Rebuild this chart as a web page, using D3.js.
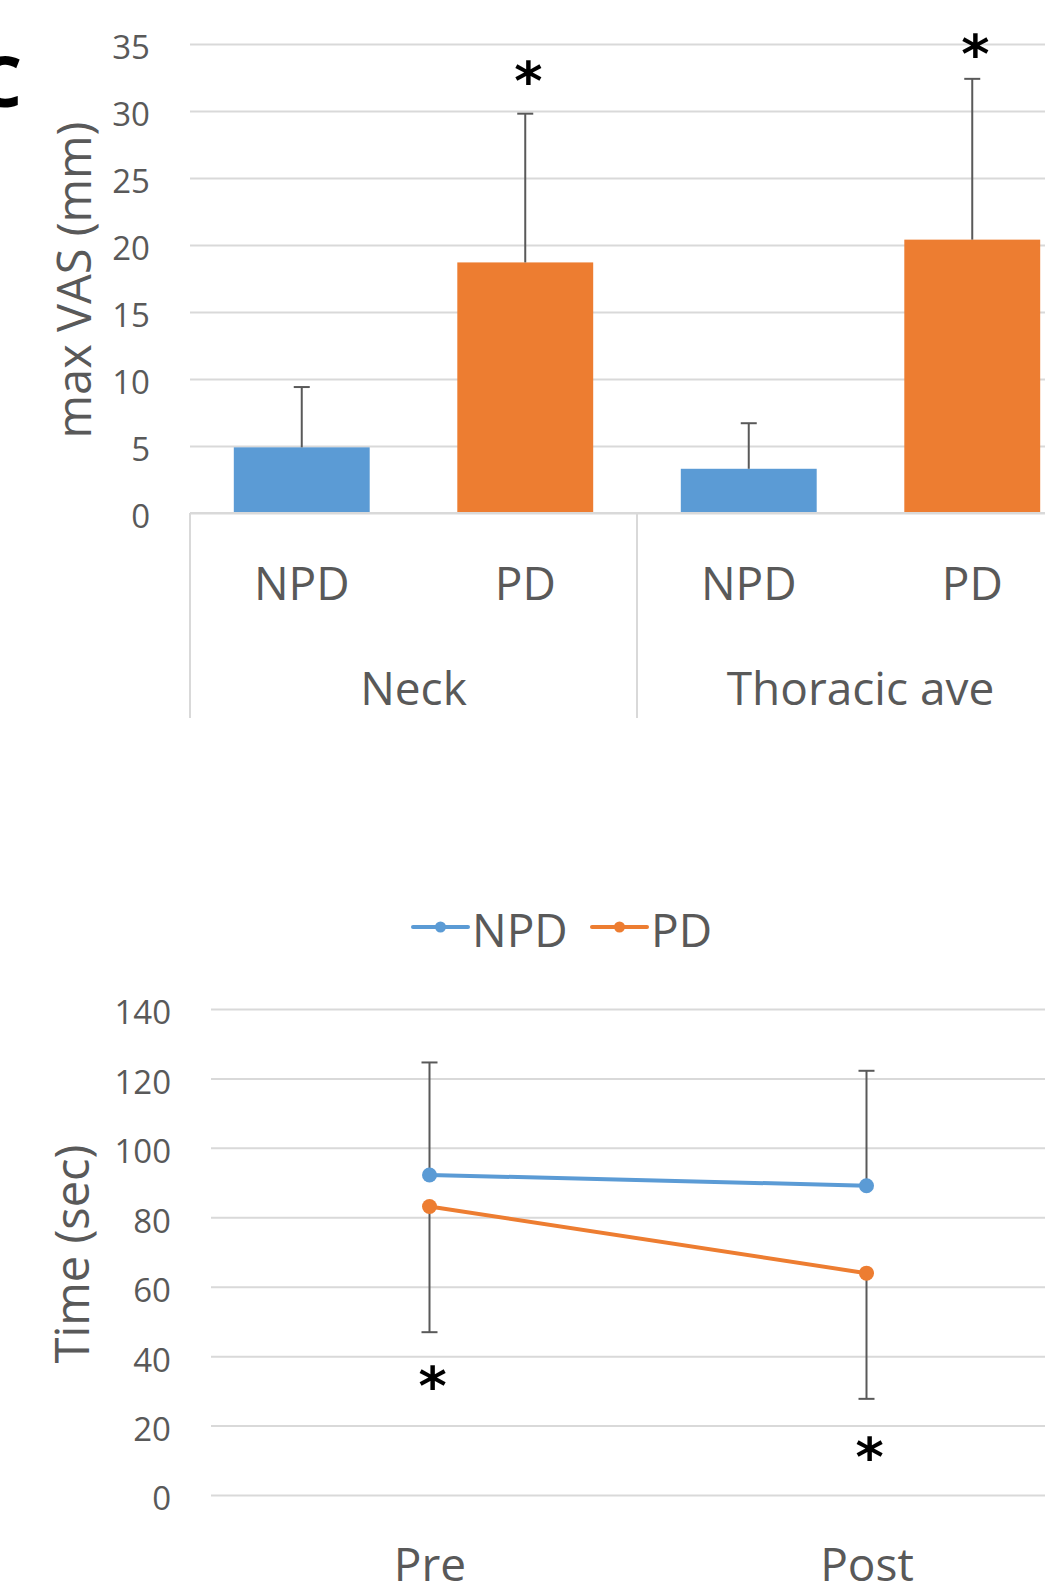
<!DOCTYPE html>
<html>
<head>
<meta charset="utf-8">
<script src="https://cdn.jsdelivr.net/npm/d3@7"></script>
<style>
  html, body { margin: 0; padding: 0; background: #ffffff; overflow: hidden; }
  svg { display: block; font-family: "Open Sans", "Noto Sans", sans-serif; }
</style>
</head>
<body>
<svg id="svg1"></svg>
<script>
// top panel: max VAS by region and group
const regions = ["Neck", "Thoracic ave"];
const groupNames = ["NPD", "PD"];
const vasMean = [4.9, 18.7, 3.3, 20.4];
const vasSD = [4.5, 11.1, 3.4, 12.0];
const vasStarY = [null, 32.8, null, 34.8];
const vasTicks = [0, 5, 10, 15, 20, 25, 30, 35];

// bottom panel: time pre / post
const phases = ["Pre", "Post"];
const npdTime = [92.2, 89.1];
const npdTimeSD = [32.4, 33.1];
const pdTime = [83.1, 63.9];
const pdTimeSD = [36.2, 36.2];
const timeStarY = [33.7, 13.0];
const timeTicks = [0, 20, 40, 60, 80, 100, 120, 140];

const width = 1045;
const height = 1581;
const gridColor = "#d9d9d9";
const textColor = "#595959";
const blue = "#5b9bd5";
const orange = "#ed7d31";

const svg = d3.select("#svg1")
              .attr("width", width)
              .attr("height", height);

// put a text's box centre on (cx, cy)
function centerText(sel, cx, cy) {
  const box = sel.node().getBBox();
  sel.attr("x", +sel.attr("x") + cx - (box.x + box.width / 2))
     .attr("y", +sel.attr("y") + cy - (box.y + box.height / 2));
}

// the asterisk glyph sits high in its em box, so nudge it down a bit
function drawStar(g, cx, cy) {
  const t = g.append("text")
             .attr("x", 0)
             .attr("y", 0)
             .style("font-family", "'DejaVu Sans', sans-serif")
             .style("font-weight", "bold")
             .style("font-size", "54px")
             .style("fill", "#000")
             .text("*");
  centerText(t, cx + 3, cy + 8);
}

/* ---------- top: bar chart ---------- */
const keys = [];
regions.forEach(r => groupNames.forEach(g => keys.push(r + "|" + g)));

const xBar = d3.scaleBand()
               .domain(keys)
               .range([190, 1084])
               .paddingInner(0.392)
               .paddingOuter(0.196);

const yVas = d3.scaleLinear()
               .domain([0, 35])
               .range([513, 44]);

const panelTop = svg.append("g");

const yAxisTop = panelTop.append("g")
                    .attr("transform", "translate(190,0)")
                    .call(d3.axisLeft(yVas)
                            .tickValues(vasTicks)
                            .tickSize(-(width - 190))
                            .tickPadding(40));
yAxisTop.select(".domain").remove();
yAxisTop.selectAll("line").attr("stroke", gridColor).attr("stroke-width", 2);
yAxisTop.selectAll("text")
        .attr("dy", "0.45em")
        .style("font-size", "33px")
        .style("font-family", "'Open Sans', sans-serif")
        .style("fill", textColor);

panelTop.append("g")
   .selectAll("rect")
   .data(keys)
   .enter()
   .append("rect")
   .attr("x", d => xBar(d))
   .attr("y", (d, i) => yVas(vasMean[i]))
   .attr("width", xBar.bandwidth())
   .attr("height", (d, i) => yVas(0) - yVas(vasMean[i]))
   .style("fill", d => d.endsWith("|PD") ? orange : blue);

// error bars, upward only
const errTop = panelTop.append("g")
                  .selectAll("g")
                  .data(keys)
                  .enter()
                  .append("g")
                  .attr("transform", d => "translate(" + (xBar(d) + xBar.bandwidth() / 2) + ",0)");
errTop.append("line")
      .attr("y1", (d, i) => yVas(vasMean[i]))
      .attr("y2", (d, i) => yVas(vasMean[i] + vasSD[i]))
      .attr("stroke", textColor)
      .attr("stroke-width", 2);
errTop.append("line")
      .attr("x1", -8)
      .attr("x2", 8)
      .attr("y1", (d, i) => yVas(vasMean[i] + vasSD[i]))
      .attr("y2", (d, i) => yVas(vasMean[i] + vasSD[i]))
      .attr("stroke", textColor)
      .attr("stroke-width", 2);

keys.forEach((k, i) => {
  if (vasStarY[i] !== null) drawStar(panelTop, xBar(k) + xBar.bandwidth() / 2, yVas(vasStarY[i]));
});

// category axis with two levels
panelTop.append("line")
   .attr("x1", 190).attr("x2", width)
   .attr("y1", yVas(0)).attr("y2", yVas(0))
   .attr("stroke", gridColor).attr("stroke-width", 2);

const step = xBar.step();
const groupEdges = d3.range(regions.length + 1).map(i => 190 + i * step * groupNames.length);
panelTop.selectAll(".divider")
   .data(groupEdges)
   .enter()
   .append("line")
   .attr("class", "divider")
   .attr("x1", d => d).attr("x2", d => d)
   .attr("y1", yVas(0)).attr("y2", 718)
   .attr("stroke", gridColor).attr("stroke-width", 2);

const xAxisTop = panelTop.append("g")
                    .attr("transform", "translate(0," + yVas(0) + ")")
                    .call(d3.axisBottom(xBar)
                            .tickSize(0)
                            .tickPadding(0)
                            .tickFormat(d => d.split("|")[1]));
xAxisTop.select(".domain").remove();
xAxisTop.selectAll("text")
        .attr("y", 87)
        .attr("dy", 0)
        .style("font-size", "46px")
        .style("font-family", "'Open Sans', sans-serif")
        .style("fill", textColor);

panelTop.selectAll(".region")
   .data(regions)
   .enter()
   .append("text")
   .attr("class", "region")
   .attr("x", (d, i) => (groupEdges[i] + groupEdges[i + 1]) / 2)
   .attr("y", 705)
   .attr("text-anchor", "middle")
   .style("font-size", "46px")
   .style("fill", textColor)
   .text(d => d);

panelTop.append("text")
   .attr("transform", "translate(91,280) rotate(-90)")
   .attr("text-anchor", "middle")
   .style("font-size", "47px")
   .style("fill", textColor)
   .text("max VAS (mm)");

// panel letter, mostly off the left edge
panelTop.append("text")
   .attr("x", 22)
   .attr("y", 107)
   .attr("text-anchor", "end")
   .style("font-size", "70px")
   .style("font-weight", "bold")
   .style("fill", "#000")
   .text("C");

/* ---------- bottom: line chart ---------- */
const xTime = d3.scalePoint()
                .domain(phases)
                .range([211, 1085])
                .padding(0.5);

const yTime = d3.scaleLinear()
                .domain([0, 140])
                .range([1495, 1009]);

const panelBottom = svg.append("g");

const yAxisBot = panelBottom.append("g")
                       .attr("transform", "translate(211,0)")
                       .call(d3.axisLeft(yTime)
                               .tickValues(timeTicks)
                               .tickSize(-(width - 211))
                               .tickPadding(40));
yAxisBot.select(".domain").remove();
yAxisBot.selectAll("line").attr("stroke", gridColor).attr("stroke-width", 2);
yAxisBot.selectAll("text")
        .attr("dy", "0.45em")
        .style("font-size", "33px")
        .style("font-family", "'Open Sans', sans-serif")
        .style("fill", textColor);

const series = [
  {name: "NPD", values: npdTime, sd: npdTimeSD, dir: 1, color: blue},
  {name: "PD", values: pdTime, sd: pdTimeSD, dir: -1, color: orange}
];

// error bars first so the markers sit on top
series.forEach(s => {
  const eb = panelBottom.append("g")
                   .selectAll("g")
                   .data(phases)
                   .enter()
                   .append("g")
                   .attr("transform", d => "translate(" + xTime(d) + ",0)");
  eb.append("line")
    .attr("y1", (d, i) => yTime(s.values[i]))
    .attr("y2", (d, i) => yTime(s.values[i] + s.dir * s.sd[i]))
    .attr("stroke", textColor)
    .attr("stroke-width", 2);
  eb.append("line")
    .attr("x1", -8).attr("x2", 8)
    .attr("y1", (d, i) => yTime(s.values[i] + s.dir * s.sd[i]))
    .attr("y2", (d, i) => yTime(s.values[i] + s.dir * s.sd[i]))
    .attr("stroke", textColor)
    .attr("stroke-width", 2);
});

const line = d3.line()
               .x(d => xTime(d.phase))
               .y(d => yTime(d.value));

series.forEach(s => {
  const pts = phases.map((p, i) => ({phase: p, value: s.values[i]}));
  panelBottom.append("path")
        .datum(pts)
        .attr("d", line)
        .attr("fill", "none")
        .attr("stroke", s.color)
        .attr("stroke-width", 4)
        .attr("stroke-linecap", "round");
  panelBottom.append("g")
        .selectAll("circle")
        .data(pts)
        .enter()
        .append("circle")
        .attr("cx", d => xTime(d.phase))
        .attr("cy", d => yTime(d.value))
        .attr("r", 7.5)
        .style("fill", s.color);
});

phases.forEach((p, i) => drawStar(panelBottom, xTime(p), yTime(timeStarY[i])));

const xAxisBot = panelBottom.append("g")
                       .attr("transform", "translate(0,1495)")
                       .call(d3.axisBottom(xTime).tickSize(0).tickPadding(0));
xAxisBot.select(".domain").remove();
xAxisBot.selectAll("text")
        .attr("y", 86)
        .attr("dy", 0)
        .style("font-size", "46px")
        .style("font-family", "'Open Sans', sans-serif")
        .style("fill", textColor);

panelBottom.append("text")
      .attr("transform", "translate(89,1254) rotate(-90)")
      .attr("text-anchor", "middle")
      .style("font-size", "47px")
      .style("fill", textColor)
      .text("Time (sec)");

// legend
const legendPos = [{x: 413, tx: 472}, {x: 592, tx: 651}];
const legend = panelBottom.append("g")
                     .selectAll("g")
                     .data(series)
                     .enter()
                     .append("g")
                     .attr("transform", (d, i) => "translate(" + legendPos[i].x + ",927)");
legend.append("line")
      .attr("x1", 0).attr("x2", 55)
      .attr("stroke", d => d.color)
      .attr("stroke-width", 4)
      .attr("stroke-linecap", "round");
legend.append("circle")
      .attr("cx", 27.5)
      .attr("r", 5.5)
      .style("fill", d => d.color);
legend.append("text")
      .attr("x", (d, i) => legendPos[i].tx - legendPos[i].x)
      .attr("y", 20)
      .style("font-size", "46px")
      .style("fill", textColor)
      .text(d => d.name);
</script>
</body>
</html>
